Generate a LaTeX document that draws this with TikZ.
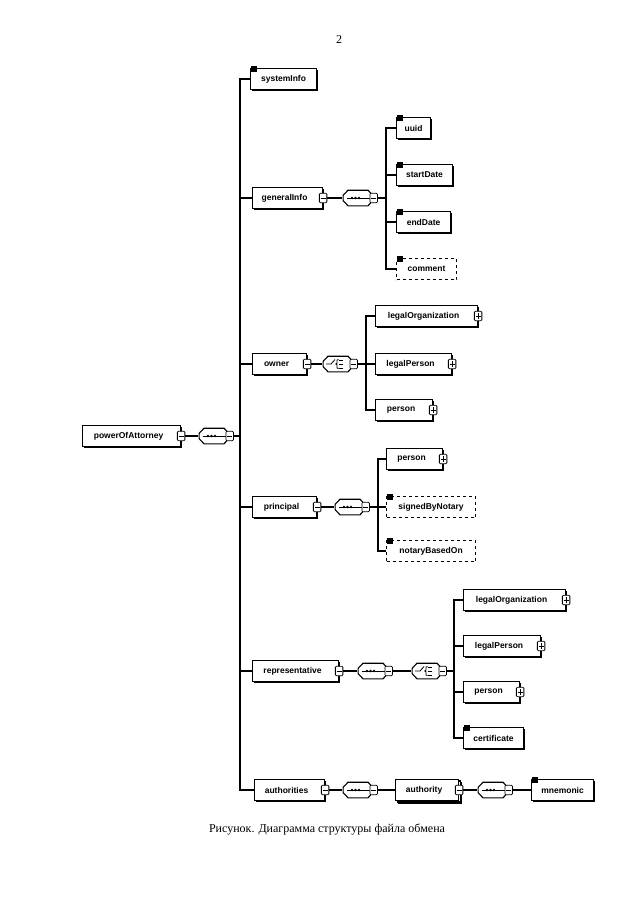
\documentclass[tikz,border=0pt]{standalone}
\usepackage{fontspec}
\setmainfont{Liberation Serif}
\newfontfamily\elemfont{Liberation Sans}
\usepackage{tikz}
\usetikzlibrary{positioning}
\usetikzlibrary{shadows}
\tikzstyle{elembase} = [draw, line width=1.1pt, fill=white, rectangle, anchor=west,
    minimum height=21pt, inner xsep=3pt, font=\elemfont\bfseries\fontsize{8.5}{9}\selectfont]
\tikzstyle{elem} = [elembase, drop shadow={shadow xshift=1.2pt, shadow yshift=-1.2pt, fill=black, opacity=1}]
\tikzstyle{optelem} = [elembase, dashed]
\tikzstyle{btn} = [draw, solid, line width=0.8pt, fill=white, rectangle, rounded corners=1pt,
    minimum width=7.5pt, minimum height=9.5pt, inner sep=0pt, anchor=center]
\tikzstyle{minusbtn} = [btn, path picture={
    \draw ([xshift=-2.4pt]path picture bounding box.center) -- ([xshift=2.4pt]path picture bounding box.center);}]
\tikzstyle{plusbtn} = [btn, path picture={
    \draw ([xshift=-2.4pt]path picture bounding box.center) -- ([xshift=2.4pt]path picture bounding box.center);
    \draw ([yshift=-3.2pt]path picture bounding box.center) -- ([yshift=3.2pt]path picture bounding box.center);}]
\tikzstyle{leafmark} = [fill=black, minimum width=6.5pt, minimum height=6.5pt, inner sep=0pt,
    anchor=north west, yshift=3pt]
\tikzstyle{comp} = [rectangle, minimum width=31pt, minimum height=17pt, inner sep=0pt]
% octagon outline of a compositor, drawn inside its node
\newcommand{\compframe}{%
    \coordinate (c) at (path picture bounding box.center);
    \filldraw[fill=white, line width=1.1pt] ([xshift=-15pt,yshift=-2.5pt]c) -- ([xshift=-15pt,yshift=2.5pt]c)
        -- ([xshift=-10pt,yshift=7.8pt]c) -- ([xshift=10pt,yshift=7.8pt]c) -- ([xshift=15pt,yshift=2.5pt]c)
        -- ([xshift=15pt,yshift=-2.5pt]c) -- ([xshift=10pt,yshift=-7.8pt]c) -- ([xshift=-10pt,yshift=-7.8pt]c) -- cycle;}
\tikzset{
  kids/.style={execute at end node={\hspace{6pt}}, label={[minusbtn,name=#1-btn]east:}},
  ref/.style={execute at end node={\hspace{6pt}}, label={[plusbtn,name=#1-btn]east:}},
  simple/.style={label={[leafmark,name=#1-mark]north west:}},
  seqbox/.style={comp, label={[minusbtn,name=#1-btn,xshift=-0.5pt]east:}, path picture={
    \compframe
    \draw[line width=0.8pt] ([xshift=-11pt]c) -- ([xshift=12pt]c);
    \foreach \d in {-6,-2.5,1} \fill ([xshift=\d pt]c) circle (1.3pt);}},
  choicebox/.style={comp, label={[minusbtn,name=#1-btn,xshift=-0.5pt]east:}, path picture={
    \compframe
    \draw[line width=0.8pt] ([xshift=-12pt]c) -- ([xshift=-7pt]c) -- ([xshift=-3pt,yshift=4.5pt]c);
    \draw[line width=0.8pt] ([xshift=0.5pt,yshift=4.5pt]c) -- ([xshift=-1pt,yshift=4pt]c)
        -- ([xshift=-1pt,yshift=0.8pt]c) -- ([xshift=-2.2pt,yshift=0pt]c) -- ([xshift=-1pt,yshift=-0.8pt]c)
        -- ([xshift=-1pt,yshift=-4pt]c) -- ([xshift=0.5pt,yshift=-4.5pt]c);
    \foreach \v in {4,0,-4} \draw[line width=0.8pt] ([xshift=0.5pt,yshift=\v pt]c) -- ([xshift=4.5pt,yshift=\v pt]c);}}
}

\begin{document}
\begin{tikzpicture}[x=1pt, y=-1pt, line width=1.3pt]
    \useasboundingbox (0,0) rectangle (640,905);

    \node (pageNo) at (339,40) {\fontsize{12}{14}\selectfont 2};

    % root
    \node [elem, kids=powerOfAttorney, minimum width=98pt] (powerOfAttorney) at (82,436) {powerOfAttorney};
    \node [seqbox=rootSeq] (rootSeq) at (214,436) {};
    \coordinate (rootBus) at (240,436);

    % first level
    \node [elem, simple=systemInfo, minimum width=66pt] (systemInfo) at (250,79) {systemInfo};
    \node [elem, kids=generalInfo, minimum width=70pt] (generalInfo) at (252,198) {generalInfo};
    \node [elem, kids=owner, minimum width=54pt] (owner) at (252,364) {owner};
    \node [elem, kids=principal, minimum width=64pt] (principal) at (252,507) {principal};
    \node [elem, kids=representative, minimum width=86pt] (representative) at (252,671) {representative};
    \node [elem, kids=authorities, minimum width=70pt] (authorities) at (254,790) {authorities};

    % generalInfo
    \node [seqbox=genSeq] (genSeq) at (358,198) {};
    \coordinate (genBus) at (386,198);
    \node [elem, simple=uuid, minimum width=34pt] (uuid) at (396,128) {uuid};
    \node [elem, simple=startDate, minimum width=56pt] (startDate) at (396,175) {startDate};
    \node [elem, simple=endDate, minimum width=54pt] (endDate) at (396,222) {endDate};
    \node [optelem, simple=comment, minimum width=60pt] (comment) at (396,269) {comment};

    % owner
    \node [choicebox=ownChoice] (ownChoice) at (338,364) {};
    \coordinate (ownBus) at (366,364);
    \node [elem, ref=ownLegalOrg, minimum width=102pt] (ownLegalOrg) at (375,316) {legalOrganization};
    \node [elem, ref=ownLegalPerson, minimum width=76pt] (ownLegalPerson) at (375,364) {legalPerson};
    \node [elem, ref=ownPerson, minimum width=57pt] (ownPerson) at (375,410) {person};

    % principal
    \node [seqbox=prinSeq] (prinSeq) at (350,507) {};
    \coordinate (prinBus) at (378,507);
    \node [elem, ref=prinPerson, minimum width=56pt] (prinPerson) at (386,459) {person};
    \node [optelem, simple=signedByNotary, minimum width=89pt] (signedByNotary) at (386,507) {signedByNotary};
    \node [optelem, simple=notaryBasedOn, minimum width=89pt] (notaryBasedOn) at (386,551) {notaryBasedOn};

    % representative
    \node [seqbox=repSeq] (repSeq) at (373,671) {};
    \node [choicebox=repChoice] (repChoice) at (427,671) {};
    \coordinate (repBus) at (454,671);
    \node [elem, ref=repLegalOrg, minimum width=102pt] (repLegalOrg) at (463,600) {legalOrganization};
    \node [elem, ref=repLegalPerson, minimum width=77pt] (repLegalPerson) at (463,646) {legalPerson};
    \node [elem, ref=repPerson, minimum width=56pt] (repPerson) at (463,692) {person};
    \node [elem, simple=certificate, minimum width=60pt] (certificate) at (463,738) {certificate};

    % authorities
    \node [seqbox=authSeq] (authSeq) at (358,790) {};
    \node [elembase, kids=authority, minimum width=63pt,
        double copy shadow={shadow xshift=1.5pt, shadow yshift=-1.5pt}] (authority) at (395,790) {authority};
    \node [seqbox=authySeq] (authySeq) at (493,790) {};
    \node [elem, simple=mnemonic, minimum width=62pt] (mnemonic) at (531,790) {mnemonic};

    \node (caption) at (327,829) {\fontsize{12}{14}\selectfont Рисунок. Диаграмма структуры файла обмена};

    \draw (powerOfAttorney-btn) -- (rootSeq);
    \draw (rootSeq-btn) -- (rootBus);
    \draw (rootBus) |- (systemInfo);
    \draw (rootBus) |- (generalInfo);
    \draw (rootBus) |- (owner);
    \draw (rootBus) |- (principal);
    \draw (rootBus) |- (representative);
    \draw (rootBus) |- (authorities);

    \draw (generalInfo-btn) -- (genSeq);
    \draw (genSeq-btn) -- (genBus);
    \draw (genBus) |- (uuid);
    \draw (genBus) |- (startDate);
    \draw (genBus) |- (endDate);
    \draw (genBus) |- (comment);

    \draw (owner-btn) -- (ownChoice);
    \draw (ownChoice-btn) -- (ownBus);
    \draw (ownBus) |- (ownLegalOrg);
    \draw (ownBus) |- (ownLegalPerson);
    \draw (ownBus) |- (ownPerson);

    \draw (principal-btn) -- (prinSeq);
    \draw (prinSeq-btn) -- (prinBus);
    \draw (prinBus) |- (prinPerson);
    \draw (prinBus) |- (signedByNotary);
    \draw (prinBus) |- (notaryBasedOn);

    \draw (representative-btn) -- (repSeq);
    \draw (repSeq-btn) -- (repChoice);
    \draw (repChoice-btn) -- (repBus);
    \draw (repBus) |- (repLegalOrg);
    \draw (repBus) |- (repLegalPerson);
    \draw (repBus) |- (repPerson);
    \draw (repBus) |- (certificate);

    \draw (authorities-btn) -- (authSeq);
    \draw (authSeq-btn) -- (authority);
    \draw (authority-btn) -- (authySeq);
    \draw (authySeq-btn) -- (mnemonic);
\end{tikzpicture}
\end{document}
